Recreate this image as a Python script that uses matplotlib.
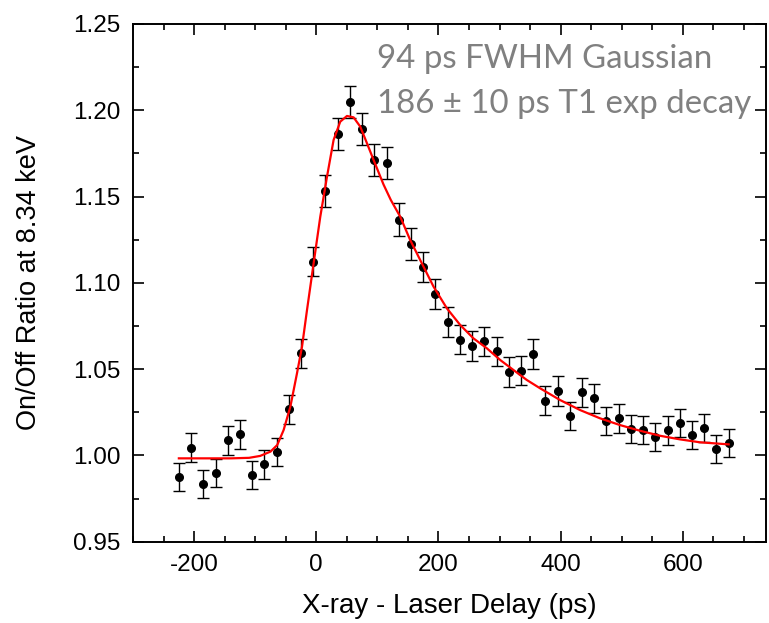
import matplotlib
matplotlib.use("Agg")
import matplotlib.pyplot as plt
from matplotlib.ticker import MultipleLocator, FormatStrFormatter

# measured points (delay in ps, on/off ratio, error)
delay = [-225, -205, -185, -165, -145, -125, -105, -85, -65, -45,
         -25, -5, 15, 35, 55, 75, 95, 115, 135, 155,
         175, 195, 215, 235, 255, 275, 295, 315, 335, 355,
         375, 395, 415, 435, 455, 475, 495, 515, 535, 555,
         575, 595, 615, 635, 655, 675]
ratio = [0.9874, 1.0043, 0.9836, 0.9896, 1.0087, 1.0122, 0.9886, 0.9948, 1.0020, 1.0267,
         1.0592, 1.1123, 1.1532, 1.1863, 1.2046, 1.1892, 1.1712, 1.1693, 1.1367, 1.1225,
         1.1092, 1.0934, 1.0775, 1.0671, 1.0634, 1.0661, 1.0603, 1.0485, 1.0491, 1.0586,
         1.0317, 1.0373, 1.0228, 1.0367, 1.0331, 1.0199, 1.0215, 1.0153, 1.0145, 1.0108,
         1.0145, 1.0188, 1.0118, 1.0159, 1.0036, 1.0070]
err = [0.0080, 0.0084, 0.0082, 0.0081, 0.0084, 0.0085, 0.0083, 0.0083, 0.0083, 0.0084,
       0.0085, 0.0086, 0.0093, 0.0093, 0.0093, 0.0093, 0.0094, 0.0092, 0.0093, 0.0092,
       0.0087, 0.0086, 0.0086, 0.0086, 0.0085, 0.0086, 0.0086, 0.0086, 0.0085, 0.0086,
       0.0083, 0.0085, 0.0083, 0.0084, 0.0084, 0.0083, 0.0083, 0.0083, 0.0081, 0.0082,
       0.0082, 0.0083, 0.0083, 0.0083, 0.0082, 0.0082]

# fit curve
fit_x = [-225, -180, -140, -110, -92, -75, -64, -53.5, -42.5, -31.6,
         -23.4, -15.2, -4.4, 6.5, 17.5, 28.3, 39.2, 50.2, 61, 72,
         82.9, 94, 110, 122, 137.4, 153.7, 170.1, 191.9, 213.8, 235.5,
         257.3, 279.1, 301, 322.7, 344.6, 366.3, 399, 431.7, 464.4, 497,
         529.8, 562.5, 595.2, 627.9, 675]
fit_y = [0.9983, 0.9983, 0.9983, 0.9986, 0.9997, 1.0022, 1.0060, 1.0147, 1.0282, 1.0476,
         1.0630, 1.0843, 1.1113, 1.1383, 1.1615, 1.1828, 1.1934, 1.1967, 1.1959, 1.1905,
         1.1809, 1.1710, 1.1570, 1.1480, 1.1383, 1.1248, 1.1132, 1.0978, 1.0852, 1.0756,
         1.0678, 1.0621, 1.0553, 1.0495, 1.0437, 1.0389, 1.0321, 1.0263, 1.0215, 1.0176,
         1.0143, 1.0114, 1.0093, 1.0076, 1.0064]

fit_text = ['94 ps FWHM Gaussian', '186 ± 10 ps T1 exp decay']

plt.rcParams['font.family'] = ['Liberation Sans', 'DejaVu Sans']
plt.rcParams['axes.unicode_minus'] = False

fig = plt.figure(figsize=(7.69, 6.23), dpi=100)
ax = fig.add_axes([0.173, 0.1305, 0.823, 0.831])

ax.errorbar(delay, ratio, yerr=err, fmt='o', color='black', markersize=5.5,
            elinewidth=1, capsize=4, capthick=1, zorder=2)
ax.plot(fit_x, fit_y, color='red', lw=1.6, zorder=3)

ax.set_xlim(-300, 736)
ax.set_ylim(0.95, 1.25)
ax.xaxis.set_major_locator(MultipleLocator(200))
ax.xaxis.set_minor_locator(MultipleLocator(50))
ax.yaxis.set_major_locator(MultipleLocator(0.05))
ax.yaxis.set_minor_locator(MultipleLocator(0.025))
ax.yaxis.set_major_formatter(FormatStrFormatter('%.2f'))

ax.tick_params(which='both', direction='in', top=True, right=True, width=1.2,
               labelsize=17.5)
ax.tick_params(which='major', length=8, pad=9)
ax.tick_params(which='minor', length=4.5)
for s in ax.spines.values():
    s.set_linewidth(1.4)

ax.set_xlabel('X-ray - Laser Delay (ps)', fontsize=20, labelpad=12)
ax.set_ylabel('On/Off Ratio at 8.34 keV', fontsize=19.5, labelpad=22)

ax.text(100, 1.2245, fit_text[0], family=['Lato', 'DejaVu Sans'], fontsize=23.8,
        color='#808080', ha='left', va='baseline')
ax.text(100, 1.1984, fit_text[1], family=['Lato', 'DejaVu Sans'], fontsize=23.8,
        color='#808080', ha='left', va='baseline')

fig.savefig('out.png', dpi=100)
